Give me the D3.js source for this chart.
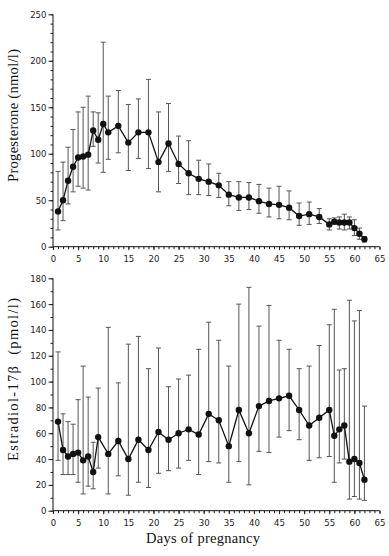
<!DOCTYPE html>
<html>
<head>
<meta charset="utf-8">
<script src="https://cdn.jsdelivr.net/npm/d3@7.9.0/dist/d3.min.js"></script>
<style>
  body { margin: 0; background: #fff; }
  svg { display: block; }
  .tick-label { font-family: "DejaVu Sans Condensed", "Liberation Sans Narrow", sans-serif; font-size: 9.5px; fill: #222; }
  .title { font-family: "Liberation Serif", "DejaVu Serif", serif; font-size: 14.5px; fill: #111; }
</style>
</head>
<body>
<svg id="chart" width="389" height="556"></svg>
<script>
// progesterone (nmol/l)
const progDays  = [1,2,3,4,5,6,7,8,9,10,11,13,15,17,19,21,23,25,27,29,31,33,35,37,39,41,43,45,47,49,51,53,55,56,57,58,59,60,61,62];
const progMean  = [38,50,71,86,96,97,99,125,115,132,123,130,112,123,123,91,111,89,79,73,70,66,56,53,53,49,46,45,42,33,35,32,24,27,26,26,26,20,14,8];
const progUpper = [81,91,107,126,145,150,162,145,144,220,162,168,153,159,180,145,154,119,114,93,89,79,70,70,69,67,63,65,60,47,48,41,30,31,32,35,32,29,20,11];
const progLower = [18,28,46,59,65,63,61,108,90,80,94,101,82,95,84,59,81,68,56,56,55,53,44,39,40,36,32,30,29,23,24,25,18,24,19,18,19,12,8,5];

// estradiol-17b (pmol/l)
const estDays  = [1,2,3,4,5,6,7,8,9,11,13,15,17,19,21,23,25,27,29,31,33,35,37,39,41,43,45,47,49,51,53,55,56,57,58,59,60,61,62];
const estMean  = [69,47,42,44,45,39,42,30,57,44,54,40,55,47,61,55,60,63,59,75,70,50,78,60,81,85,87,89,78,66,72,78,58,63,66,38,40,37,24];
const estUpper = [123,75,69,67,86,112,88,53,95,142,99,129,135,110,126,96,102,105,125,146,132,112,160,173,143,159,132,125,110,112,128,144,156,109,110,163,147,155,81];
const estLower = [39,28,28,28,22,13,19,17,33,13,27,12,22,18,29,31,33,39,28,38,37,22,38,20,46,45,57,62,55,39,41,42,22,37,40,9,11,9,8];

const xTicks = d3.range(0, 70, 5);

const svg = d3.select('#chart');

const x = d3.scaleLinear().domain([0, 65]).range([53, 379.5]);

function drawPanel(opts) {
    const { days, mean, upper, lower, yMax, yMajor, top, bottom, title, titleLen } = opts;
    const y = d3.scaleLinear().domain([0, yMax]).range([bottom, top]);
    const g = svg.append('g');

    // y axis: major with labels, minor every 10
    g.append('g')
        .attr('transform', `translate(${x(0)},0)`)
        .call(d3.axisLeft(y).tickValues(d3.range(0, yMax + 1, 10)).tickSize(2.5).tickFormat(''))
        .call(a => a.select('.domain').remove())
        .selectAll('line').attr('stroke', '#222');
    g.append('g')
        .attr('transform', `translate(${x(0)},0)`)
        .call(d3.axisLeft(y).tickValues(d3.range(0, yMax + 1, yMajor)).tickSize(4.5).tickPadding(2))
        .call(a => a.select('.domain').attr('d', `M0,${y(yMax)}V${y(0)}`).attr('stroke', '#111'))
        .call(a => a.selectAll('text').attr('class', 'tick-label'))
        .selectAll('line').attr('stroke', '#222');

    // x axis: minor each day, major every 5
    g.append('g')
        .attr('transform', `translate(0,${y(0)})`)
        .call(d3.axisBottom(x).tickValues(d3.range(0, 66, 1)).tickSize(2.5).tickFormat(''))
        .call(a => a.select('.domain').remove())
        .selectAll('line').attr('stroke', '#222');
    g.append('g')
        .attr('transform', `translate(0,${y(0)})`)
        .call(d3.axisBottom(x).tickValues(xTicks).tickSize(3.5).tickPadding(5))
        .call(a => a.select('.domain').attr('d', `M${x(0)},0H${x(65)}`).attr('stroke', '#111'))
        .call(a => a.selectAll('text').attr('class', 'tick-label'))
        .selectAll('line').attr('stroke', '#222');

    // error bars
    const bars = g.append('g').attr('stroke', '#555').attr('stroke-width', 1);
    days.forEach((d, i) => {
        bars.append('line').attr('x1', x(d)).attr('x2', x(d)).attr('y1', y(upper[i])).attr('y2', y(lower[i]));
        bars.append('line').attr('x1', x(d) - 2.5).attr('x2', x(d) + 2.5).attr('y1', y(upper[i])).attr('y2', y(upper[i]));
        bars.append('line').attr('x1', x(d) - 2.5).attr('x2', x(d) + 2.5).attr('y1', y(lower[i])).attr('y2', y(lower[i]));
    });

    // mean line + dots
    const pts = days.map((d, i) => [d, mean[i]]);
    g.append('path')
        .datum(pts)
        .attr('fill', 'none')
        .attr('stroke', '#111')
        .attr('stroke-width', 1.3)
        .attr('d', d3.line().x(p => x(p[0])).y(p => y(p[1])));
    g.selectAll('circle.pt')
        .data(pts)
        .join('circle')
        .attr('cx', p => x(p[0]))
        .attr('cy', p => y(p[1]))
        .attr('r', 3.2)
        .attr('fill', '#111');

    // y title
    const cy = (top + bottom) / 2 - 15;
    g.append('text')
        .attr('class', 'title')
        .attr('transform', `translate(18,${cy}) rotate(-90)`)
        .attr('text-anchor', 'middle')
        .attr('textLength', titleLen)
        .attr('lengthAdjust', 'spacing')
        .style('white-space', 'pre')
        .text(title);
}

drawPanel({
    days: progDays, mean: progMean, upper: progUpper, lower: progLower,
    yMax: 250, yMajor: 50, top: 14.3, bottom: 246.7,
    title: 'Progesterone (nmol/l)', titleLen: 133
});

drawPanel({
    days: estDays, mean: estMean, upper: estUpper, lower: estLower,
    yMax: 180, yMajor: 20, top: 278.3, bottom: 510.7,
    title: 'Estradiol-17β  (pmol/l)', titleLen: 163
});

svg.append('text')
    .attr('class', 'title')
    .attr('x', 203)
    .attr('y', 543)
    .attr('text-anchor', 'middle')
    .attr('textLength', 114)
    .attr('lengthAdjust', 'spacing')
    .text('Days of pregnancy');
</script>
</body>
</html>
